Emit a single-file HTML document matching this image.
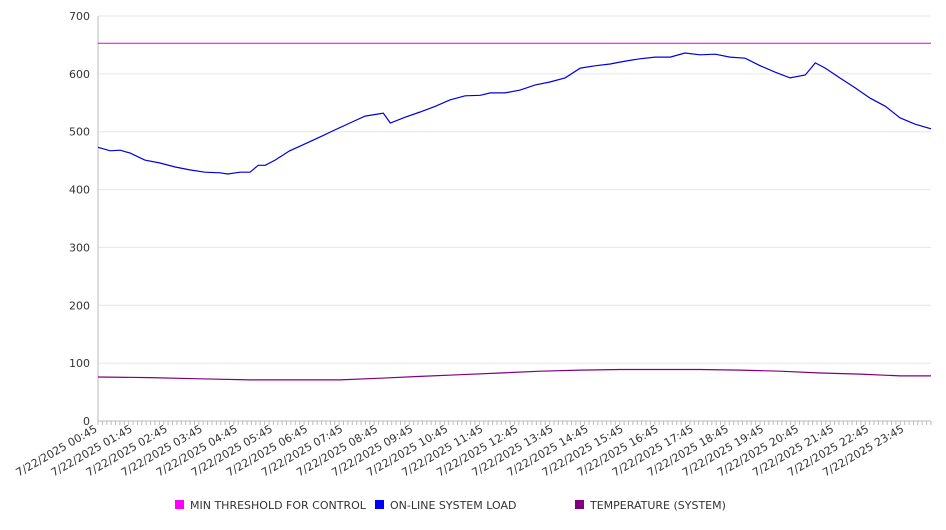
<!DOCTYPE html>
<html><head><meta charset="utf-8"><style>
body{margin:0;background:#fff;font-family:"DejaVu Sans","Liberation Sans",sans-serif;}
svg text{font-family:"DejaVu Sans","Liberation Sans",sans-serif;}
</style></head><body>
<svg id="chart" width="946" height="526" xmlns="http://www.w3.org/2000/svg"></svg>
<script>
const yTicks=[0,100,200,300,400,500,600,700];
const xTickLabels=["7/22/2025 00:45","7/22/2025 01:45","7/22/2025 02:45","7/22/2025 03:45","7/22/2025 04:45","7/22/2025 05:45","7/22/2025 06:45","7/22/2025 07:45","7/22/2025 08:45","7/22/2025 09:45","7/22/2025 10:45","7/22/2025 11:45","7/22/2025 12:45","7/22/2025 13:45","7/22/2025 14:45","7/22/2025 15:45","7/22/2025 16:45","7/22/2025 17:45","7/22/2025 18:45","7/22/2025 19:45","7/22/2025 20:45","7/22/2025 21:45","7/22/2025 22:45","7/22/2025 23:45"];
const thresholdValue=653;
const loadMinutes=[0,21,38,55,80,106,132,157,183,209,222,243,260,274,286,303,328,354,380,405,431,457,488,500,525,551,577,602,628,654,671,696,722,748,773,799,825,850,876,902,927,953,979,1004,1030,1056,1081,1107,1133,1158,1184,1210,1227,1244,1269,1295,1321,1347,1372,1398,1425];
const loadValues=[473,467,468,463,451,446,439,434,430,429,427,430,430,442,442,451,467,479,491,503,515,527,532,515,525,534,544,555,562,563,567,567,572,581,586,593,610,614,617,622,626,629,629,636,633,634,629,627,614,603,593,598,619,610,593,576,558,544,524,513,505];
const tempMinutes=[0,89,175,260,346,414,483,551,620,688,757,825,894,962,1030,1099,1167,1236,1304,1373,1425];
const tempValues=[76,75,73,71,71,71,74,77,80,83,86,88,89,89,89,88,86,83,81,78,78];

const NS="http://www.w3.org/2000/svg";
const svg=document.getElementById('chart');
const X0=98,X1=931,Y0=421,Y1=16,MAXMIN=1425,YMAX=700;
const xs=m=>X0+(m/MAXMIN)*(X1-X0);
const ys=v=>Y0-(v/YMAX)*(Y0-Y1);
function mk(tag,attrs,parent){const e=document.createElementNS(NS,tag);for(const k in attrs)e.setAttribute(k,attrs[k]);(parent||svg).appendChild(e);return e;}

const grid=mk('g',{});


yTicks.forEach(v=>{
  if(v>0){const l=mk('line',{x1:X0,x2:X1,y1:ys(v),y2:ys(v),stroke:'#e6e6e6','stroke-width':1},grid);
  
  }
  const t=mk('text',{x:90,y:ys(v)+4,'text-anchor':'end','font-size':11,fill:'#333'});
  t.textContent=v;
  
  
});
const ax=mk('line',{x1:X0,x2:X0,y1:Y1,y2:Y0,stroke:'#bbb'});


const bx=mk('line',{x1:X0,x2:X1,y1:Y0,y2:Y0,stroke:'#bbb'});


// minor ticks
let tp='';
for(let m=0;m<=MAXMIN;m+=7.5){tp+='M'+xs(m).toFixed(1)+' '+Y0+'V'+(Y0+4);}
const tk=mk('path',{d:tp,stroke:'#bbb','stroke-width':1,fill:'none'});


xTickLabels.forEach((s,i)=>{
  const x=xs(i*60),y=Y0+10;
  const t=mk('text',{x:x,y:y,'text-anchor':'end','font-size':11,fill:'#333',transform:`rotate(-30 ${x} ${y})`});
  t.textContent=s;
  
  
});
const th=mk('line',{x1:X0,x2:X1,y1:ys(thresholdValue),y2:ys(thresholdValue),stroke:'#e000e0','stroke-width':1});


function line(ms,vs,color,name){
  const d=ms.map((m,i)=>(i?'L':'M')+xs(m).toFixed(1)+' '+ys(vs[i]).toFixed(1)).join('');
  const p=mk('path',{d:d,stroke:color,'stroke-width':1.2,fill:'none'});
  
  
}
line(loadMinutes,loadValues,'#0000dd','online-system-load-line');
line(tempMinutes,tempValues,'#800080','temperature-line');
const legend=[['MIN THRESHOLD FOR CONTROL','#ff00ff',175],['ON-LINE SYSTEM LOAD','#0000ff',375],['TEMPERATURE (SYSTEM)','#800080',575]];
legend.forEach(([s,c,x])=>{
  const g=mk('g',{});
  
  
  mk('rect',{x:x,y:500,width:9,height:9,fill:c},g);
  const t=mk('text',{x:x+15,y:509,'font-size':11,fill:'#333'},g);
  t.textContent=s;
});
</script>
</body></html>
